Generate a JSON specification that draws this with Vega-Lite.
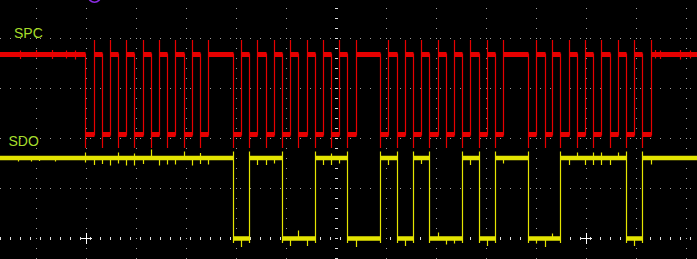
{
  "$schema": "https://vega.github.io/schema/vega-lite/v6.json",
  "width": 697,
  "height": 259,
  "padding": 0,
  "autosize": "none",
  "background": "#000000",
  "config": {"view": {"stroke": null}},
  "datasets": {
    "gridx": [{"t": -6}, {"t": -5}, {"t": -4}, {"t": -3}, {"t": -2}, {"t": -1}, {"t": 1}, {"t": 2}, {"t": 3}, {"t": 4}, {"t": 5}, {"t": 6}, {"t": 7}],
    "gridy": [{"v": 1}, {"v": 2}, {"v": 3}, {"v": 4}],
    "center": [{"t": 0, "v": 0}],
    "seg": [
      {"ch": "SPC", "t": -6.8, "t2": -5.02, "v": 3.68},
      {"ch": "SPC", "t": -5.02, "t2": -4.84, "v": 2.08},
      {"ch": "SPC", "t": -4.84, "t2": -4.68, "v": 3.68},
      {"ch": "SPC", "t": -4.68, "t2": -4.52, "v": 2.08},
      {"ch": "SPC", "t": -4.52, "t2": -4.36, "v": 3.68},
      {"ch": "SPC", "t": -4.36, "t2": -4.20, "v": 2.08},
      {"ch": "SPC", "t": -4.20, "t2": -4.04, "v": 3.68},
      {"ch": "SPC", "t": -4.04, "t2": -3.86, "v": 2.08},
      {"ch": "SPC", "t": -3.86, "t2": -3.70, "v": 3.68},
      {"ch": "SPC", "t": -3.70, "t2": -3.54, "v": 2.08},
      {"ch": "SPC", "t": -3.54, "t2": -3.38, "v": 3.68},
      {"ch": "SPC", "t": -3.38, "t2": -3.22, "v": 2.08},
      {"ch": "SPC", "t": -3.22, "t2": -3.04, "v": 3.68},
      {"ch": "SPC", "t": -3.04, "t2": -2.88, "v": 2.08},
      {"ch": "SPC", "t": -2.88, "t2": -2.72, "v": 3.68},
      {"ch": "SPC", "t": -2.72, "t2": -2.56, "v": 2.08},
      {"ch": "SPC", "t": -2.56, "t2": -2.06, "v": 3.68},
      {"ch": "SPC", "t": -2.06, "t2": -1.90, "v": 2.08},
      {"ch": "SPC", "t": -1.90, "t2": -1.74, "v": 3.68},
      {"ch": "SPC", "t": -1.74, "t2": -1.58, "v": 2.08},
      {"ch": "SPC", "t": -1.58, "t2": -1.40, "v": 3.68},
      {"ch": "SPC", "t": -1.40, "t2": -1.24, "v": 2.08},
      {"ch": "SPC", "t": -1.24, "t2": -1.08, "v": 3.68},
      {"ch": "SPC", "t": -1.08, "t2": -0.92, "v": 2.08},
      {"ch": "SPC", "t": -0.92, "t2": -0.76, "v": 3.68},
      {"ch": "SPC", "t": -0.76, "t2": -0.58, "v": 2.08},
      {"ch": "SPC", "t": -0.58, "t2": -0.42, "v": 3.68},
      {"ch": "SPC", "t": -0.42, "t2": -0.26, "v": 2.08},
      {"ch": "SPC", "t": -0.26, "t2": -0.10, "v": 3.68},
      {"ch": "SPC", "t": -0.10, "t2": 0.06, "v": 2.08},
      {"ch": "SPC", "t": 0.06, "t2": 0.22, "v": 3.68},
      {"ch": "SPC", "t": 0.22, "t2": 0.40, "v": 2.08},
      {"ch": "SPC", "t": 0.40, "t2": 0.88, "v": 3.68},
      {"ch": "SPC", "t": 0.88, "t2": 1.04, "v": 2.08},
      {"ch": "SPC", "t": 1.04, "t2": 1.22, "v": 3.68},
      {"ch": "SPC", "t": 1.22, "t2": 1.38, "v": 2.08},
      {"ch": "SPC", "t": 1.38, "t2": 1.54, "v": 3.68},
      {"ch": "SPC", "t": 1.54, "t2": 1.70, "v": 2.08},
      {"ch": "SPC", "t": 1.70, "t2": 1.86, "v": 3.68},
      {"ch": "SPC", "t": 1.86, "t2": 2.04, "v": 2.08},
      {"ch": "SPC", "t": 2.04, "t2": 2.20, "v": 3.68},
      {"ch": "SPC", "t": 2.20, "t2": 2.36, "v": 2.08},
      {"ch": "SPC", "t": 2.36, "t2": 2.52, "v": 3.68},
      {"ch": "SPC", "t": 2.52, "t2": 2.68, "v": 2.08},
      {"ch": "SPC", "t": 2.68, "t2": 2.86, "v": 3.68},
      {"ch": "SPC", "t": 2.86, "t2": 3.02, "v": 2.08},
      {"ch": "SPC", "t": 3.02, "t2": 3.18, "v": 3.68},
      {"ch": "SPC", "t": 3.18, "t2": 3.34, "v": 2.08},
      {"ch": "SPC", "t": 3.34, "t2": 3.84, "v": 3.68},
      {"ch": "SPC", "t": 3.84, "t2": 4.00, "v": 2.08},
      {"ch": "SPC", "t": 4.00, "t2": 4.18, "v": 3.68},
      {"ch": "SPC", "t": 4.18, "t2": 4.32, "v": 2.08},
      {"ch": "SPC", "t": 4.32, "t2": 4.48, "v": 3.68},
      {"ch": "SPC", "t": 4.48, "t2": 4.66, "v": 2.08},
      {"ch": "SPC", "t": 4.66, "t2": 4.82, "v": 3.68},
      {"ch": "SPC", "t": 4.82, "t2": 4.98, "v": 2.08},
      {"ch": "SPC", "t": 4.98, "t2": 5.14, "v": 3.68},
      {"ch": "SPC", "t": 5.14, "t2": 5.30, "v": 2.08},
      {"ch": "SPC", "t": 5.30, "t2": 5.48, "v": 3.68},
      {"ch": "SPC", "t": 5.48, "t2": 5.64, "v": 2.08},
      {"ch": "SPC", "t": 5.64, "t2": 5.80, "v": 3.68},
      {"ch": "SPC", "t": 5.80, "t2": 5.96, "v": 2.08},
      {"ch": "SPC", "t": 5.96, "t2": 6.12, "v": 3.68},
      {"ch": "SPC", "t": 6.12, "t2": 6.30, "v": 2.08},
      {"ch": "SPC", "t": 6.30, "t2": 7.3, "v": 3.68},
      {"ch": "SDO", "t": -6.8, "t2": -2.06, "v": 1.61},
      {"ch": "SDO", "t": -2.06, "t2": -1.74, "v": 0.0},
      {"ch": "SDO", "t": -1.74, "t2": -1.08, "v": 1.61},
      {"ch": "SDO", "t": -1.08, "t2": -0.42, "v": 0.0},
      {"ch": "SDO", "t": -0.42, "t2": 0.22, "v": 1.61},
      {"ch": "SDO", "t": 0.22, "t2": 0.88, "v": 0.0},
      {"ch": "SDO", "t": 0.88, "t2": 1.22, "v": 1.61},
      {"ch": "SDO", "t": 1.22, "t2": 1.54, "v": 0.0},
      {"ch": "SDO", "t": 1.54, "t2": 1.86, "v": 1.61},
      {"ch": "SDO", "t": 1.86, "t2": 2.52, "v": 0.0},
      {"ch": "SDO", "t": 2.52, "t2": 2.86, "v": 1.61},
      {"ch": "SDO", "t": 2.86, "t2": 3.18, "v": 0.0},
      {"ch": "SDO", "t": 3.18, "t2": 3.84, "v": 1.61},
      {"ch": "SDO", "t": 3.84, "t2": 4.48, "v": 0.0},
      {"ch": "SDO", "t": 4.48, "t2": 5.80, "v": 1.61},
      {"ch": "SDO", "t": 5.80, "t2": 6.12, "v": 0.0},
      {"ch": "SDO", "t": 6.12, "t2": 7.3, "v": 1.61}
    ],
    "edges": [
      {"ch": "SPC", "t": -5.02, "v": 3.70, "v2": 1.81},
      {"ch": "SPC", "t": -4.84, "v": 2.06, "v2": 3.97},
      {"ch": "SPC", "t": -4.68, "v": 3.70, "v2": 1.81},
      {"ch": "SPC", "t": -4.52, "v": 2.06, "v2": 3.97},
      {"ch": "SPC", "t": -4.36, "v": 3.70, "v2": 1.81},
      {"ch": "SPC", "t": -4.20, "v": 2.06, "v2": 3.97},
      {"ch": "SPC", "t": -4.04, "v": 3.70, "v2": 1.81},
      {"ch": "SPC", "t": -3.86, "v": 2.06, "v2": 3.97},
      {"ch": "SPC", "t": -3.70, "v": 3.70, "v2": 1.81},
      {"ch": "SPC", "t": -3.54, "v": 2.06, "v2": 3.97},
      {"ch": "SPC", "t": -3.38, "v": 3.70, "v2": 1.81},
      {"ch": "SPC", "t": -3.22, "v": 2.06, "v2": 3.97},
      {"ch": "SPC", "t": -3.04, "v": 3.70, "v2": 1.81},
      {"ch": "SPC", "t": -2.88, "v": 2.06, "v2": 3.97},
      {"ch": "SPC", "t": -2.72, "v": 3.70, "v2": 1.81},
      {"ch": "SPC", "t": -2.56, "v": 2.06, "v2": 3.97},
      {"ch": "SPC", "t": -2.06, "v": 3.70, "v2": 1.81},
      {"ch": "SPC", "t": -1.90, "v": 2.06, "v2": 3.97},
      {"ch": "SPC", "t": -1.74, "v": 3.70, "v2": 1.81},
      {"ch": "SPC", "t": -1.58, "v": 2.06, "v2": 3.97},
      {"ch": "SPC", "t": -1.40, "v": 3.70, "v2": 1.81},
      {"ch": "SPC", "t": -1.24, "v": 2.06, "v2": 3.97},
      {"ch": "SPC", "t": -1.08, "v": 3.70, "v2": 1.81},
      {"ch": "SPC", "t": -0.92, "v": 2.06, "v2": 3.97},
      {"ch": "SPC", "t": -0.76, "v": 3.70, "v2": 1.81},
      {"ch": "SPC", "t": -0.58, "v": 2.06, "v2": 3.97},
      {"ch": "SPC", "t": -0.42, "v": 3.70, "v2": 1.81},
      {"ch": "SPC", "t": -0.26, "v": 2.06, "v2": 3.97},
      {"ch": "SPC", "t": -0.10, "v": 3.70, "v2": 1.81},
      {"ch": "SPC", "t": 0.06, "v": 2.06, "v2": 3.97},
      {"ch": "SPC", "t": 0.22, "v": 3.70, "v2": 1.81},
      {"ch": "SPC", "t": 0.40, "v": 2.06, "v2": 3.97},
      {"ch": "SPC", "t": 0.88, "v": 3.70, "v2": 1.81},
      {"ch": "SPC", "t": 1.04, "v": 2.06, "v2": 3.97},
      {"ch": "SPC", "t": 1.22, "v": 3.70, "v2": 1.81},
      {"ch": "SPC", "t": 1.38, "v": 2.06, "v2": 3.97},
      {"ch": "SPC", "t": 1.54, "v": 3.70, "v2": 1.81},
      {"ch": "SPC", "t": 1.70, "v": 2.06, "v2": 3.97},
      {"ch": "SPC", "t": 1.86, "v": 3.70, "v2": 1.81},
      {"ch": "SPC", "t": 2.04, "v": 2.06, "v2": 3.97},
      {"ch": "SPC", "t": 2.20, "v": 3.70, "v2": 1.81},
      {"ch": "SPC", "t": 2.36, "v": 2.06, "v2": 3.97},
      {"ch": "SPC", "t": 2.52, "v": 3.70, "v2": 1.81},
      {"ch": "SPC", "t": 2.68, "v": 2.06, "v2": 3.97},
      {"ch": "SPC", "t": 2.86, "v": 3.70, "v2": 1.81},
      {"ch": "SPC", "t": 3.02, "v": 2.06, "v2": 3.97},
      {"ch": "SPC", "t": 3.18, "v": 3.70, "v2": 1.81},
      {"ch": "SPC", "t": 3.34, "v": 2.06, "v2": 3.97},
      {"ch": "SPC", "t": 3.84, "v": 3.70, "v2": 1.81},
      {"ch": "SPC", "t": 4.00, "v": 2.06, "v2": 3.97},
      {"ch": "SPC", "t": 4.18, "v": 3.70, "v2": 1.81},
      {"ch": "SPC", "t": 4.32, "v": 2.06, "v2": 3.97},
      {"ch": "SPC", "t": 4.48, "v": 3.70, "v2": 1.81},
      {"ch": "SPC", "t": 4.66, "v": 2.06, "v2": 3.97},
      {"ch": "SPC", "t": 4.82, "v": 3.70, "v2": 1.81},
      {"ch": "SPC", "t": 4.98, "v": 2.06, "v2": 3.97},
      {"ch": "SPC", "t": 5.14, "v": 3.70, "v2": 1.81},
      {"ch": "SPC", "t": 5.30, "v": 2.06, "v2": 3.97},
      {"ch": "SPC", "t": 5.48, "v": 3.70, "v2": 1.81},
      {"ch": "SPC", "t": 5.64, "v": 2.06, "v2": 3.97},
      {"ch": "SPC", "t": 5.80, "v": 3.70, "v2": 1.81},
      {"ch": "SPC", "t": 5.96, "v": 2.06, "v2": 3.97},
      {"ch": "SPC", "t": 6.12, "v": 3.70, "v2": 1.81},
      {"ch": "SPC", "t": 6.30, "v": 2.06, "v2": 3.97},
      {"ch": "SPC", "t": -6.32, "v": 3.59, "v2": 3.76},
      {"ch": "SPC", "t": -6.00, "v": 3.62, "v2": 3.77},
      {"ch": "SPC", "t": -5.68, "v": 3.59, "v2": 3.77},
      {"ch": "SPC", "t": -5.40, "v": 3.60, "v2": 3.76},
      {"ch": "SPC", "t": -5.22, "v": 3.58, "v2": 3.76},
      {"ch": "SPC", "t": 6.38, "v": 3.60, "v2": 3.77},
      {"ch": "SPC", "t": 6.48, "v": 3.59, "v2": 3.76},
      {"ch": "SPC", "t": 6.88, "v": 3.58, "v2": 3.77},
      {"ch": "SPC", "t": 7.08, "v": 3.60, "v2": 3.76},
      {"ch": "SDO", "t": -2.06, "v": 1.74, "v2": -0.09},
      {"ch": "SDO", "t": -1.74, "v": -0.09, "v2": 1.74},
      {"ch": "SDO", "t": -1.08, "v": 1.74, "v2": -0.09},
      {"ch": "SDO", "t": -0.42, "v": -0.09, "v2": 1.74},
      {"ch": "SDO", "t": 0.22, "v": 1.74, "v2": -0.09},
      {"ch": "SDO", "t": 0.88, "v": -0.09, "v2": 1.74},
      {"ch": "SDO", "t": 1.22, "v": 1.74, "v2": -0.09},
      {"ch": "SDO", "t": 1.54, "v": -0.09, "v2": 1.74},
      {"ch": "SDO", "t": 1.86, "v": 1.74, "v2": -0.09},
      {"ch": "SDO", "t": 2.52, "v": -0.09, "v2": 1.74},
      {"ch": "SDO", "t": 2.86, "v": 1.74, "v2": -0.09},
      {"ch": "SDO", "t": 3.18, "v": -0.09, "v2": 1.74},
      {"ch": "SDO", "t": 3.84, "v": 1.74, "v2": -0.09},
      {"ch": "SDO", "t": 4.48, "v": -0.09, "v2": 1.74},
      {"ch": "SDO", "t": 5.80, "v": 1.74, "v2": -0.09},
      {"ch": "SDO", "t": 6.12, "v": -0.09, "v2": 1.74},
      {"ch": "SDO", "t": -6.36, "v": 1.54, "v2": 1.61},
      {"ch": "SDO", "t": -6.10, "v": 1.54, "v2": 1.61},
      {"ch": "SDO", "t": -5.94, "v": 1.55, "v2": 1.61},
      {"ch": "SDO", "t": -5.62, "v": 1.54, "v2": 1.61},
      {"ch": "SDO", "t": -5.02, "v": 1.52, "v2": 1.72},
      {"ch": "SDO", "t": -4.84, "v": 1.47, "v2": 1.61},
      {"ch": "SDO", "t": -4.68, "v": 1.49, "v2": 1.61},
      {"ch": "SDO", "t": -4.52, "v": 1.46, "v2": 1.61},
      {"ch": "SDO", "t": -4.36, "v": 1.50, "v2": 1.72},
      {"ch": "SDO", "t": -4.20, "v": 1.46, "v2": 1.61},
      {"ch": "SDO", "t": -4.04, "v": 1.46, "v2": 1.70},
      {"ch": "SDO", "t": -3.86, "v": 1.49, "v2": 1.61},
      {"ch": "SDO", "t": -3.70, "v": 1.61, "v2": 1.78},
      {"ch": "SDO", "t": -3.54, "v": 1.46, "v2": 1.61},
      {"ch": "SDO", "t": -3.38, "v": 1.48, "v2": 1.61},
      {"ch": "SDO", "t": -3.22, "v": 1.48, "v2": 1.61},
      {"ch": "SDO", "t": -3.04, "v": 1.61, "v2": 1.74},
      {"ch": "SDO", "t": -2.88, "v": 1.46, "v2": 1.61},
      {"ch": "SDO", "t": -2.72, "v": 1.49, "v2": 1.71},
      {"ch": "SDO", "t": -2.56, "v": 1.48, "v2": 1.61},
      {"ch": "SDO", "t": -1.90, "v": -0.17, "v2": 0.03},
      {"ch": "SDO", "t": -1.58, "v": 1.47, "v2": 1.61},
      {"ch": "SDO", "t": -1.40, "v": 1.47, "v2": 1.61},
      {"ch": "SDO", "t": -1.24, "v": 1.50, "v2": 1.61},
      {"ch": "SDO", "t": -0.92, "v": -0.15, "v2": 0.03},
      {"ch": "SDO", "t": -0.76, "v": 0.0, "v2": 0.16},
      {"ch": "SDO", "t": -0.58, "v": -0.15, "v2": 0.0},
      {"ch": "SDO", "t": -0.26, "v": 1.47, "v2": 1.61},
      {"ch": "SDO", "t": -0.10, "v": 1.47, "v2": 1.70},
      {"ch": "SDO", "t": 0.06, "v": 1.50, "v2": 1.61},
      {"ch": "SDO", "t": 0.40, "v": -0.17, "v2": 0.0},
      {"ch": "SDO", "t": 1.04, "v": 1.47, "v2": 1.61},
      {"ch": "SDO", "t": 1.38, "v": -0.15, "v2": 0.0},
      {"ch": "SDO", "t": 1.70, "v": 1.49, "v2": 1.61},
      {"ch": "SDO", "t": 2.04, "v": 0.0, "v2": 0.12},
      {"ch": "SDO", "t": 2.20, "v": -0.12, "v2": 0.0},
      {"ch": "SDO", "t": 2.36, "v": -0.10, "v2": 0.0},
      {"ch": "SDO", "t": 2.68, "v": 1.47, "v2": 1.61},
      {"ch": "SDO", "t": 3.02, "v": -0.15, "v2": 0.0},
      {"ch": "SDO", "t": 3.34, "v": 1.50, "v2": 1.61},
      {"ch": "SDO", "t": 4.00, "v": -0.10, "v2": 0.0},
      {"ch": "SDO", "t": 4.18, "v": -0.17, "v2": 0.0},
      {"ch": "SDO", "t": 4.32, "v": 0.0, "v2": 0.10},
      {"ch": "SDO", "t": 4.66, "v": 1.47, "v2": 1.61},
      {"ch": "SDO", "t": 4.82, "v": 1.61, "v2": 1.72},
      {"ch": "SDO", "t": 4.98, "v": 1.47, "v2": 1.61},
      {"ch": "SDO", "t": 5.14, "v": 1.47, "v2": 1.72},
      {"ch": "SDO", "t": 5.30, "v": 1.47, "v2": 1.72},
      {"ch": "SDO", "t": 5.48, "v": 1.47, "v2": 1.61},
      {"ch": "SDO", "t": 5.64, "v": 1.61, "v2": 1.72},
      {"ch": "SDO", "t": 5.96, "v": -0.15, "v2": 0.0},
      {"ch": "SDO", "t": 6.30, "v": 1.48, "v2": 1.61}
    ],
    "labels": [
      {"label": "SPC", "t": -6.45, "v": 4.02},
      {"label": "SDO", "t": -6.56, "v": 1.86}
    ],
    "cursors": [{"t": -5, "v": 0}, {"t": 5, "v": 0}],
    "trigger": [{"t": -4.84, "v": 4.85}]
  },
  "layer": [
    {
      "data": {"name": "gridx"},
      "mark": {"type": "rule", "color": "#9a9a9a", "strokeWidth": 1, "strokeDash": [1, 9], "strokeDashOffset": 2},
      "encoding": {
        "x": {"field": "t", "type": "quantitative", "scale": {"domain": [-6.73, 7.21], "nice": false, "zero": false}, "axis": null}
      }
    },
    {
      "data": {"name": "gridy"},
      "mark": {"type": "rule", "color": "#9a9a9a", "strokeWidth": 1, "strokeDash": [1, 9], "strokeDashOffset": 4},
      "encoding": {
        "y": {"field": "v", "type": "quantitative", "scale": {"domain": [-0.41, 4.77], "nice": false, "zero": false}, "axis": null}
      }
    },
    {
      "data": {"name": "center"},
      "mark": {"type": "rule", "color": "#e0e0e0", "strokeWidth": 3, "strokeDash": [1, 9], "strokeDashOffset": 2},
      "encoding": {
        "x": {"field": "t", "type": "quantitative", "scale": {"domain": [-6.73, 7.21], "nice": false, "zero": false}, "axis": null}
      }
    },
    {
      "data": {"name": "center"},
      "mark": {"type": "rule", "color": "#e0e0e0", "strokeWidth": 3, "strokeDash": [1, 9], "strokeDashOffset": 4},
      "encoding": {
        "y": {"field": "v", "type": "quantitative", "scale": {"domain": [-0.41, 4.77], "nice": false, "zero": false}, "axis": null}
      }
    },
    {
      "data": {"name": "cursors"},
      "mark": {"type": "point", "shape": "M-1,0L1,0M0,-1L0,1", "size": 121, "filled": false, "stroke": "#ffffff", "strokeWidth": 1, "opacity": 1},
      "encoding": {
        "x": {"field": "t", "type": "quantitative", "scale": {"domain": [-6.73, 7.21], "nice": false, "zero": false}, "axis": null},
        "y": {"field": "v", "type": "quantitative", "scale": {"domain": [-0.41, 4.77], "nice": false, "zero": false}, "axis": null}
      }
    },
    {
      "data": {"name": "seg"},
      "mark": {"type": "rule", "strokeCap": "butt"},
      "encoding": {
        "x": {"field": "t", "type": "quantitative", "scale": {"domain": [-6.73, 7.21], "nice": false, "zero": false}, "axis": null},
        "x2": {"field": "t2"},
        "y": {"field": "v", "type": "quantitative", "scale": {"domain": [-0.41, 4.77], "nice": false, "zero": false}, "axis": null},
        "color": {"field": "ch", "type": "nominal", "scale": {"domain": ["SPC", "SDO"], "range": ["#e60000", "#e4e400"]}, "legend": null},
        "strokeWidth": {"field": "ch", "type": "nominal", "scale": {"domain": ["SPC", "SDO"], "range": [5, 4.5]}, "legend": null}
      }
    },
    {
      "data": {"name": "edges"},
      "mark": {"type": "rule", "strokeWidth": 1.2, "strokeCap": "butt"},
      "encoding": {
        "x": {"field": "t", "type": "quantitative", "scale": {"domain": [-6.73, 7.21], "nice": false, "zero": false}, "axis": null},
        "y": {"field": "v", "type": "quantitative", "scale": {"domain": [-0.41, 4.77], "nice": false, "zero": false}, "axis": null},
        "y2": {"field": "v2"},
        "color": {"field": "ch", "type": "nominal", "scale": {"domain": ["SPC", "SDO"], "range": ["#e60000", "#e4e400"]}, "legend": null}
      }
    },
    {
      "data": {"name": "trigger"},
      "mark": {"type": "point", "shape": "circle", "size": 154, "filled": false, "stroke": "#8a2be2", "strokeWidth": 1.6, "opacity": 1},
      "encoding": {
        "x": {"field": "t", "type": "quantitative", "scale": {"domain": [-6.73, 7.21], "nice": false, "zero": false}, "axis": null},
        "y": {"field": "v", "type": "quantitative", "scale": {"domain": [-0.41, 4.77], "nice": false, "zero": false}, "axis": null}
      }
    },
    {
      "data": {"name": "labels"},
      "mark": {"type": "text", "align": "left", "baseline": "alphabetic", "font": "Liberation Sans", "fontSize": 14, "color": "#a6dc2a"},
      "encoding": {
        "x": {"field": "t", "type": "quantitative", "scale": {"domain": [-6.73, 7.21], "nice": false, "zero": false}, "axis": null},
        "y": {"field": "v", "type": "quantitative", "scale": {"domain": [-0.41, 4.77], "nice": false, "zero": false}, "axis": null},
        "text": {"field": "label"}
      }
    }
  ]
}
